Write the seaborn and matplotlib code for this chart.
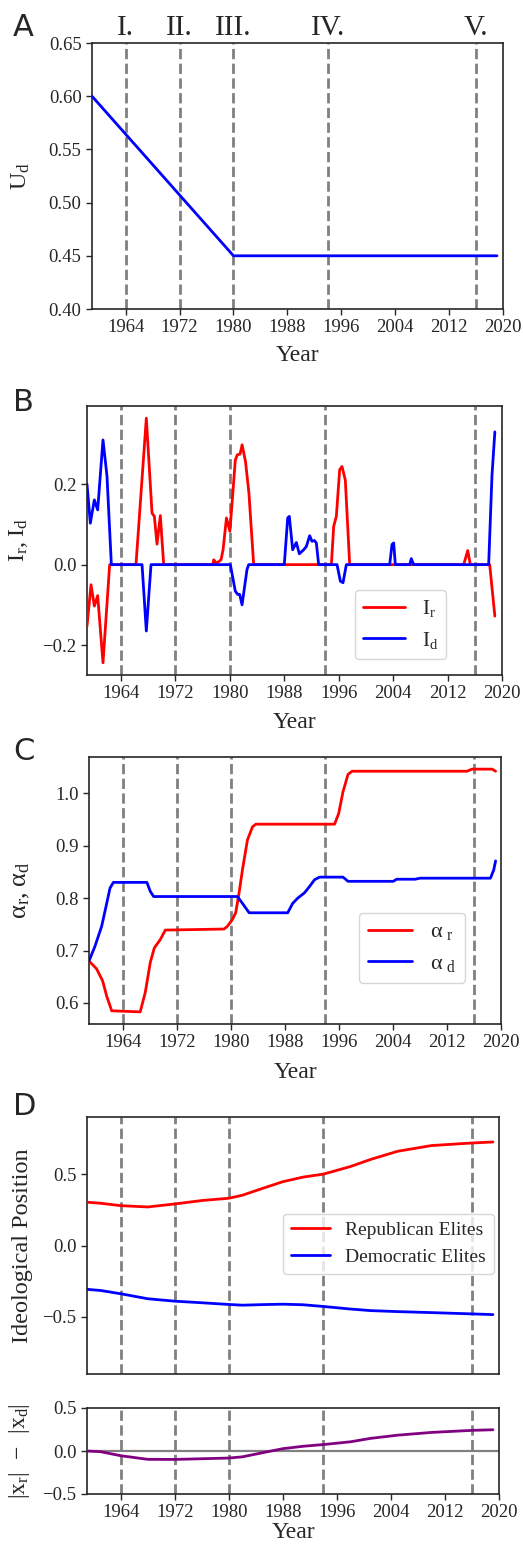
###################################################################################################
# Required Libraries
###################################################################################################
import matplotlib
matplotlib.use("Agg")
import matplotlib.pyplot as plt
import seaborn as sns

###################################################################################################
# Data
###################################################################################################
event_years = [1964, 1972, 1980, 1994, 2016]
event_names = ["I.", "II.", "III.", "IV.", "V."]
year_ticks = [1964, 1972, 1980, 1988, 1996, 2004, 2012, 2020]

# panel A : U_d
ud_years = [1959, 1980, 2019.1]
ud_vals = [0.60, 0.45, 0.45]

# panel B : I_r and I_d
ir_years = [1959.0, 1959.59, 1960.08, 1960.57, 1961.35, 1962.33, 1966.2, 1967.72, 1968.56, 1968.9,
            1969.29, 1969.78, 1970.27, 1977.5, 1977.62, 1978.0, 1978.4, 1978.7, 1979.0, 1979.5,
            1980.0, 1980.4, 1980.8, 1981.1, 1981.5, 1981.8, 1982.3, 1982.8, 1983.5, 1994.92,
            1995.26, 1995.65, 1996.14, 1996.48, 1996.97, 1997.61, 2014.37, 2014.96, 2015.35,
            2018.19, 2018.95]
ir_vals = [-0.153, -0.05, -0.103, -0.077, -0.244, 0.0, 0.0, 0.364, 0.128, 0.12,
           0.051, 0.122, 0.0, 0.0, 0.012, 0.004, 0.008, 0.012, 0.037, 0.116,
           0.083, 0.17, 0.26, 0.273, 0.275, 0.298, 0.256, 0.178, 0.0, 0.0,
           0.095, 0.12, 0.236, 0.244, 0.21, 0.0, 0.0, 0.035, 0.0,
           0.0, -0.128]
id_years = [1959.0, 1959.49, 1960.08, 1960.57, 1961.35, 1961.94, 1962.58, 1967.09, 1967.72, 1968.41,
            1980.07, 1980.8, 1981.15, 1981.44, 1981.79, 1982.52, 1982.77, 1988.0, 1988.5, 1988.74,
            1989.23, 1989.77, 1990.21, 1990.85, 1991.24, 1991.73, 1992.07, 1992.42, 1992.71, 1993.05,
            1995.75, 1996.24, 1996.63, 1997.12, 2003.49, 2003.83, 2004.08, 2004.32, 2006.43, 2006.67,
            2007.02, 2018.04, 2018.53, 2018.95]
id_vals = [0.2, 0.103, 0.161, 0.136, 0.31, 0.22, 0.0, 0.0, -0.165, 0.0,
           0.0, -0.066, -0.074, -0.074, -0.1, -0.012, 0.0, 0.0, 0.116, 0.12,
           0.037, 0.055, 0.027, 0.037, 0.045, 0.072, 0.058, 0.06, 0.054, 0.0,
           0.0, -0.041, -0.045, 0.0, 0.0, 0.05, 0.054, 0.0, 0.0, 0.015,
           0.0, 0.0, 0.223, 0.33]

# panel C : alpha_r and alpha_d
ar_years = [1959.0, 1960.13, 1961.02, 1961.62, 1962.36, 1966.58, 1967.33, 1968.07, 1968.67, 1969.56,
            1970.3, 1978.99, 1979.48, 1980.23, 1980.72, 1981.22, 1981.72, 1982.46, 1983.21, 1983.7,
            1995.36, 1995.96, 1996.61, 1997.35, 1997.95, 2014.97, 2015.71, 2018.69, 2019.2]
ar_vals = [0.68, 0.665, 0.642, 0.613, 0.585, 0.583, 0.62, 0.677, 0.705, 0.721,
           0.739, 0.741, 0.746, 0.759, 0.772, 0.81, 0.854, 0.911, 0.936, 0.941,
           0.941, 0.961, 1.003, 1.036, 1.042, 1.042, 1.046, 1.046, 1.042]
ad_years = [1959.0, 1959.88, 1960.87, 1961.52, 1962.11, 1962.61, 1967.57, 1968.07, 1968.57, 1980.97,
            1981.72, 1982.71, 1988.42, 1989.16, 1989.91, 1990.9, 1991.64, 1992.39, 1993.13, 1996.61,
            1997.35, 2004.05, 2004.55, 2007.28, 2008.02, 2018.44, 2018.93, 2019.2]
ad_vals = [0.68, 0.708, 0.746, 0.784, 0.819, 0.83, 0.83, 0.813, 0.803, 0.803,
           0.79, 0.772, 0.772, 0.79, 0.8, 0.81, 0.822, 0.835, 0.84, 0.84,
           0.832, 0.832, 0.836, 0.836, 0.838, 0.838, 0.854, 0.871]

# panel D : elite positions and gap
pos_years = [1959, 1961, 1964, 1968, 1972, 1976, 1980, 1982, 1985, 1988,
             1991, 1994, 1998, 2001, 2005, 2010, 2016, 2019.1]
rep_vals = [0.303, 0.296, 0.279, 0.27, 0.291, 0.315, 0.331, 0.352, 0.40, 0.447,
            0.479, 0.50, 0.553, 0.603, 0.66, 0.70, 0.718, 0.725]
dem_vals = [-0.307, -0.315, -0.338, -0.373, -0.39, -0.401, -0.413, -0.418, -0.414, -0.411,
            -0.415, -0.427, -0.445, -0.456, -0.463, -0.47, -0.479, -0.484]
gap_vals = [0.0, -0.008, -0.055, -0.097, -0.098, -0.09, -0.082, -0.068, -0.02, 0.027,
            0.055, 0.075, 0.107, 0.147, 0.184, 0.216, 0.24, 0.247]

W, H = 523, 1546
LW = 2.0


###################################################################################################
# Function name = add_axes_px
# description = adds an axes given pixel edges (left, right, top, bottom)
###################################################################################################
def add_axes_px(fig, left, right, top, bottom):
    return fig.add_axes([left / W, 1 - bottom / H, (right - left) / W, (bottom - top) / H])


###################################################################################################
# Function name = decorate
# description = common x axis, event lines, labels
###################################################################################################
def decorate(ax, ylabel, ylab_x, xlab_y=None, ysize=17.5):
    for yr in event_years:
        ax.axvline(yr, color="gray", linestyle="--", linewidth=2.0, zorder=1)
    ax.set_xlim(1959, 2020)
    ax.set_xticks(year_ticks)
    ax.tick_params(labelsize=13.5, length=4, width=1)
    ax.set_ylabel(ylabel, fontsize=ysize)
    ax.yaxis.set_label_coords(ylab_x, 0.5)
    if xlab_y is None:
        ax.set_xlabel("")
    else:
        ax.set_xlabel("Year", fontsize=17)
        ax.xaxis.set_label_coords(0.5, xlab_y)


def panel_letter(fig, letter, top_px):
    fig.text(13 / W, 1 - top_px / H, letter, fontsize=22, family="DejaVu Sans", va="top", ha="left")


###################################################################################################
# Function name = main
###################################################################################################
def main():
    sns.set_style("ticks")
    plt.rcParams["font.family"] = ["Liberation Serif", "DejaVu Serif"]
    plt.rcParams["mathtext.default"] = "regular"
    plt.rcParams["axes.linewidth"] = 1.2

    fig = plt.figure(figsize=(W / 100, H / 100), dpi=100)

    # A
    ax = add_axes_px(fig, 92, 503, 43, 309)
    sns.lineplot(x=ud_years, y=ud_vals, color="blue", linewidth=LW, ax=ax, zorder=3)
    ax.set_ylim(0.40, 0.65)
    ax.set_yticks([0.40, 0.45, 0.50, 0.55, 0.60, 0.65])
    decorate(ax, "$U_d$", -0.146, -0.135)
    for yr, name in zip(event_years, event_names):
        ax.text(yr, 1.03, name, transform=ax.get_xaxis_transform(), ha="center", va="baseline", fontsize=21)
    panel_letter(fig, "A", 13)

    # B
    ax = add_axes_px(fig, 87, 502, 406, 675)
    sns.lineplot(x=ir_years, y=ir_vals, color="red", linewidth=LW, ax=ax, label="$I_r$", zorder=3)
    sns.lineplot(x=id_years, y=id_vals, color="blue", linewidth=LW, ax=ax, label="$I_d$", zorder=3)
    ax.set_yticks([-0.2, 0.0, 0.2])
    decorate(ax, "$I_r, I_d$", -0.137, -0.138)
    ax.legend(loc="lower left", bbox_to_anchor=(0.646, 0.06), borderaxespad=0, fontsize=15)
    panel_letter(fig, "B", 388)

    # C
    ax = add_axes_px(fig, 89, 501, 757, 1024)
    sns.lineplot(x=ar_years, y=ar_vals, color="red", linewidth=LW, ax=ax, label=r"$\alpha_{\ r}$", zorder=3)
    sns.lineplot(x=ad_years, y=ad_vals, color="blue", linewidth=LW, ax=ax, label=r"$\alpha_{\ d}$", zorder=3)
    ax.set_yticks([0.6, 0.7, 0.8, 0.9, 1.0])
    decorate(ax, r"$\alpha_r, \alpha_d$", -0.138, -0.142, ysize=19)
    ax.legend(loc="lower left", bbox_to_anchor=(0.655, 0.154), borderaxespad=0, fontsize=16)
    panel_letter(fig, "C", 737)

    # D top
    ax = add_axes_px(fig, 87, 499, 1117, 1374)
    sns.lineplot(x=pos_years, y=rep_vals, color="red", linewidth=LW, ax=ax, label="Republican Elites", zorder=3)
    sns.lineplot(x=pos_years, y=dem_vals, color="blue", linewidth=LW, ax=ax, label="Democratic Elites", zorder=3)
    ax.set_ylim(-0.9, 0.9)
    ax.set_yticks([-0.5, 0.0, 0.5])
    decorate(ax, "Ideological Position", -0.131)
    ax.tick_params(axis="x", bottom=False, labelbottom=False)
    ax.legend(loc="lower left", bbox_to_anchor=(0.476, 0.389), borderaxespad=0, fontsize=14)
    panel_letter(fig, "D", 1092)

    # D bottom
    ax = add_axes_px(fig, 87, 499, 1408, 1494)
    ax.axhline(0, color="gray", linewidth=1.6, zorder=2)
    sns.lineplot(x=pos_years, y=gap_vals, color="purple", linewidth=LW, ax=ax, zorder=3)
    ax.set_ylim(-0.5, 0.5)
    ax.set_yticks([-0.5, 0.0, 0.5])
    decorate(ax, r"$|x_r|\ -\ |x_d|$", -0.133, -0.326, ysize=17)

    fig.savefig("out.png", dpi=100)


###################################################################################################
# application starter
###################################################################################################
if __name__ == "__main__":
    main()
